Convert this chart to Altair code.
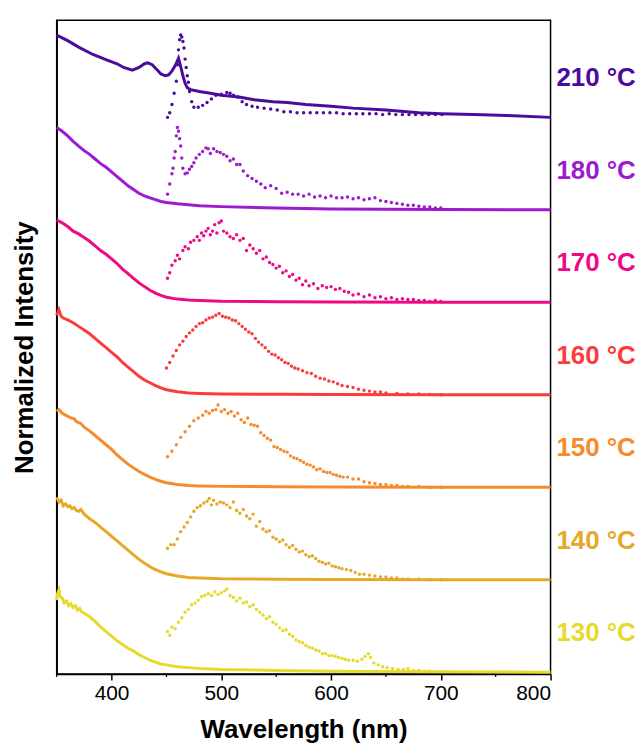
import altair as alt
import pandas as pd

FONT = "Liberation Sans"

SERIES = ["210 °C", "180 °C", "170 °C", "160 °C", "150 °C", "140 °C", "130 °C"]
COLORS = ["#4B0C9C", "#9A1BD0", "#EE0A84", "#FB3C3C", "#F88A2E", "#E6A828", "#E6DA2C"]
OFFSETS = [6, 5, 4, 3, 2, 1, 0]

# ---------------- absorbance (solid lines) ----------------
ABS_210_WL = [350, 360, 370, 383, 396, 405, 411, 419, 425, 430, 433, 437, 441, 445, 449, 452, 455, 458,
              461, 463, 465, 467, 469, 472, 480, 490, 500, 516, 530, 547, 560, 577, 600, 620, 650, 680,
              700, 730, 760, 800]
ABS_210 = [0.89, 0.83, 0.76, 0.68, 0.62, 0.58, 0.54, 0.51, 0.54, 0.58, 0.59, 0.57, 0.52, 0.47, 0.45, 0.46,
           0.50, 0.56, 0.64, 0.55, 0.45, 0.37, 0.32, 0.30, 0.28, 0.26, 0.24, 0.22, 0.19, 0.17, 0.16, 0.14,
           0.12, 0.10, 0.08, 0.05, 0.04, 0.03, 0.02, 0.0]

ABS_WL = [350, 355, 360, 365, 370, 375, 380, 385, 390, 395, 400, 405, 410, 415, 420, 425, 430, 435,
          440, 445, 450, 460, 470, 480, 500, 550, 600, 700, 800]
ABS_180 = [0.89, 0.85, 0.80, 0.74, 0.69, 0.64, 0.60, 0.55, 0.50, 0.46, 0.41, 0.36, 0.31, 0.26, 0.22,
           0.18, 0.15, 0.13, 0.11, 0.09, 0.08, 0.065, 0.055, 0.045, 0.035, 0.02, 0.01, 0.005, 0.0]
ABS_170 = [0.89, 0.86, 0.82, 0.77, 0.74, 0.70, 0.66, 0.61, 0.56, 0.52, 0.47, 0.42, 0.36, 0.31, 0.26,
           0.21, 0.17, 0.13, 0.10, 0.075, 0.055, 0.035, 0.025, 0.02, 0.012, 0.006, 0.003, 0.0, 0.0]

ABS_160_WL = [350, 352, 354, 356, 360, 365, 370, 375, 380, 385, 390, 395, 400, 405, 410, 415, 420, 425,
              430, 435, 440, 445, 450, 460, 470, 480, 500, 550, 600, 700, 800]
ABS_160 = [0.86, 0.92, 0.85, 0.83, 0.81, 0.78, 0.74, 0.70, 0.66, 0.61, 0.56, 0.51, 0.46, 0.41, 0.35,
           0.30, 0.25, 0.20, 0.16, 0.13, 0.10, 0.075, 0.055, 0.033, 0.02, 0.015, 0.01, 0.005, 0.003, 0.0, 0.0]

ABS_150_WL = [350, 352, 355, 358, 360, 363, 366, 368, 370, 372, 375, 380, 385, 390, 395, 400, 405, 410,
              415, 420, 425, 430, 435, 440, 445, 450, 460, 470, 480, 500, 550, 600, 700, 800]
ABS_150 = [0.82, 0.84, 0.80, 0.78, 0.77, 0.75, 0.74, 0.71, 0.70, 0.69, 0.65, 0.61, 0.56, 0.51, 0.46,
           0.41, 0.35, 0.30, 0.25, 0.21, 0.17, 0.14, 0.11, 0.085, 0.065, 0.05, 0.03, 0.02, 0.015, 0.01,
           0.006, 0.003, 0.0, 0.0]

ABS_140_WL = [350, 352, 354, 356, 358, 360, 362, 364, 366, 368, 370, 372, 375, 380, 385, 390, 395, 400,
              405, 410, 415, 420, 425, 430, 435, 440, 445, 450, 460, 470, 480, 500, 550, 600, 700, 800]
ABS_140 = [0.89, 0.84, 0.86, 0.80, 0.82, 0.79, 0.80, 0.77, 0.78, 0.75, 0.74, 0.76, 0.71, 0.66, 0.62,
           0.57, 0.52, 0.47, 0.42, 0.37, 0.32, 0.27, 0.22, 0.18, 0.14, 0.11, 0.085, 0.065, 0.04, 0.025,
           0.02, 0.012, 0.006, 0.003, 0.0, 0.0]

ABS_130_WL = [350, 351, 352, 353, 355, 357, 359, 361, 363, 365, 367, 369, 371, 373, 375, 380, 385, 390,
              395, 400, 405, 410, 415, 420, 425, 430, 435, 440, 445, 450, 460, 470, 480, 500, 550, 600,
              700, 800]
ABS_130 = [0.78, 0.86, 0.89, 0.82, 0.80, 0.75, 0.77, 0.72, 0.74, 0.70, 0.72, 0.67, 0.69, 0.65, 0.64,
           0.60, 0.55, 0.49, 0.44, 0.39, 0.34, 0.30, 0.26, 0.23, 0.19, 0.16, 0.13, 0.11, 0.09, 0.08,
           0.06, 0.05, 0.04, 0.03, 0.02, 0.01, 0.005, 0.0]

# ---------------- photoluminescence (dots) ----------------
PL_210_WL = [451, 453, 455, 457, 459, 460, 461, 462, 463, 464, 465, 466, 467, 468, 469, 470, 471, 473,
             475, 479, 483, 487, 491, 495, 500, 505, 508, 511, 515, 519, 523, 528, 533, 539, 545, 551,
             557, 563, 569, 575, 581, 587, 593, 599, 605, 611, 617, 623, 629, 635, 641, 647, 653, 659,
             665, 671, 677, 683, 689, 695, 701]
PL_210 = [0.00, 0.05, 0.14, 0.26, 0.39, 0.57, 0.73, 0.84, 0.89, 0.87, 0.82, 0.75, 0.63, 0.54, 0.45, 0.38,
          0.28, 0.17, 0.11, 0.11, 0.13, 0.16, 0.20, 0.24, 0.25, 0.27, 0.26, 0.24, 0.22, 0.17, 0.14, 0.12,
          0.11, 0.10, 0.09, 0.08, 0.06, 0.06, 0.05, 0.05, 0.05, 0.05, 0.05, 0.05, 0.05, 0.04, 0.04, 0.04,
          0.04, 0.04, 0.04, 0.03, 0.04, 0.03, 0.03, 0.03, 0.03, 0.03, 0.03, 0.03, 0.03]

PL_180_WL = [451, 453, 455, 456, 457, 458, 459, 460, 461, 462, 463, 464, 465, 467, 469, 471, 473, 475,
             477, 480, 483, 486, 488, 490, 493, 496, 499, 502, 505, 508, 511, 514, 517, 520, 524, 528,
             532, 536, 540, 545, 550, 555, 560, 565, 570, 575, 580, 585, 590, 595, 600, 605, 610, 615,
             620, 625, 630, 635, 640, 645, 650, 655, 660, 665, 670, 675, 680, 685, 690, 695, 700]
PL_180 = [0.17, 0.28, 0.39, 0.45, 0.56, 0.63, 0.80, 0.89, 0.85, 0.77, 0.69, 0.56, 0.45, 0.39, 0.40, 0.44,
          0.47, 0.51, 0.56, 0.60, 0.63, 0.67, 0.66, 0.61, 0.66, 0.63, 0.62, 0.60, 0.58, 0.53, 0.55, 0.49,
          0.49, 0.42, 0.37, 0.34, 0.31, 0.28, 0.24, 0.26, 0.23, 0.18, 0.19, 0.17, 0.17, 0.15, 0.17, 0.14,
          0.15, 0.13, 0.15, 0.13, 0.13, 0.14, 0.12, 0.13, 0.11, 0.12, 0.13, 0.10, 0.09, 0.08, 0.07, 0.06,
          0.05, 0.05, 0.04, 0.03, 0.03, 0.02, 0.02]

PL_170_WL = [451, 453, 455, 458, 460, 462, 465, 467, 470, 472, 475, 478, 480, 482, 484, 486, 488, 490,
             492, 494, 496, 498, 500, 502, 505, 508, 511, 514, 517, 520, 523, 526, 529, 532, 535, 538,
             541, 544, 547, 550, 553, 556, 559, 562, 565, 568, 571, 574, 577, 580, 584, 588, 592, 596,
             600, 604, 608, 612, 616, 620, 625, 630, 635, 640, 645, 650, 655, 660, 665, 670, 675, 680,
             685, 690, 695, 700]
PL_170 = [0.26, 0.32, 0.40, 0.45, 0.51, 0.47, 0.56, 0.60, 0.58, 0.65, 0.67, 0.71, 0.67, 0.75, 0.72, 0.77,
          0.80, 0.73, 0.77, 0.84, 0.75, 0.86, 0.88, 0.77, 0.75, 0.71, 0.69, 0.73, 0.67, 0.69, 0.56, 0.62,
          0.58, 0.53, 0.56, 0.47, 0.49, 0.43, 0.41, 0.37, 0.39, 0.32, 0.34, 0.28, 0.30, 0.24, 0.26, 0.19,
          0.23, 0.18, 0.20, 0.15, 0.18, 0.16, 0.17, 0.14, 0.15, 0.12, 0.11, 0.08, 0.09, 0.06, 0.08, 0.05,
          0.06, 0.04, 0.05, 0.03, 0.04, 0.03, 0.03, 0.02, 0.02, 0.01, 0.02, 0.01]

PL_160_WL = [450, 453, 456, 459, 462, 465, 468, 471, 474, 477, 480, 483, 486, 489, 492, 495, 498, 501,
             504, 507, 510, 513, 516, 519, 522, 525, 528, 531, 534, 537, 540, 543, 546, 549, 552, 555,
             558, 561, 564, 567, 570, 574, 578, 582, 586, 590, 594, 598, 602, 606, 610, 615, 620, 625,
             630, 635, 640, 645, 650, 660, 670, 680, 690, 700]
PL_160 = [0.29, 0.35, 0.42, 0.48, 0.54, 0.58, 0.63, 0.67, 0.70, 0.74, 0.77, 0.78, 0.81, 0.83, 0.84, 0.86,
          0.88, 0.85, 0.84, 0.83, 0.81, 0.80, 0.77, 0.74, 0.71, 0.68, 0.66, 0.61, 0.57, 0.54, 0.51, 0.47,
          0.44, 0.43, 0.40, 0.38, 0.35, 0.34, 0.31, 0.29, 0.28, 0.26, 0.24, 0.23, 0.20, 0.18, 0.17, 0.15,
          0.14, 0.12, 0.10, 0.09, 0.08, 0.06, 0.05, 0.04, 0.03, 0.03, 0.02, 0.015, 0.01, 0.01, 0.005, 0.0]

PL_150_WL = [451, 455, 459, 463, 467, 471, 475, 479, 483, 486, 489, 492, 495, 497, 500, 503, 506, 509,
             512, 515, 518, 521, 524, 527, 530, 533, 536, 539, 542, 545, 548, 551, 554, 557, 560, 563,
             566, 569, 572, 575, 578, 581, 584, 587, 590, 593, 596, 599, 602, 605, 608, 611, 615, 620,
             625, 630, 635, 640, 645, 650, 655, 660, 665, 670, 680, 690, 700]
PL_150 = [0.33, 0.39, 0.46, 0.54, 0.60, 0.66, 0.72, 0.75, 0.78, 0.82, 0.80, 0.83, 0.84, 0.89, 0.82, 0.84,
          0.80, 0.82, 0.77, 0.80, 0.73, 0.70, 0.75, 0.68, 0.67, 0.66, 0.59, 0.56, 0.53, 0.51, 0.44, 0.43,
          0.41, 0.39, 0.38, 0.34, 0.32, 0.31, 0.29, 0.27, 0.25, 0.24, 0.22, 0.19, 0.20, 0.17, 0.16, 0.16,
          0.14, 0.13, 0.12, 0.11, 0.11, 0.09, 0.09, 0.06, 0.05, 0.04, 0.03, 0.03, 0.02, 0.02, 0.01, 0.01,
          0.01, 0.0, 0.0]

PL_140_WL = [451, 454, 457, 460, 463, 466, 469, 472, 475, 478, 481, 484, 487, 489, 491, 493, 496, 499,
             502, 505, 508, 511, 514, 517, 520, 523, 526, 529, 532, 535, 538, 541, 544, 547, 550, 553,
             556, 559, 562, 565, 568, 571, 574, 577, 580, 583, 586, 589, 592, 595, 598, 601, 604, 607,
             610, 614, 618, 622, 626, 630, 635, 640, 645, 650, 655, 660, 665, 670, 680, 690, 700]
PL_140 = [0.34, 0.38, 0.38, 0.44, 0.52, 0.57, 0.62, 0.68, 0.74, 0.78, 0.80, 0.83, 0.85, 0.88, 0.81, 0.86,
          0.82, 0.84, 0.83, 0.81, 0.78, 0.84, 0.75, 0.72, 0.76, 0.69, 0.66, 0.71, 0.58, 0.63, 0.55, 0.52,
          0.53, 0.46, 0.44, 0.41, 0.43, 0.38, 0.35, 0.37, 0.33, 0.30, 0.31, 0.27, 0.25, 0.26, 0.23, 0.20,
          0.19, 0.17, 0.18, 0.15, 0.14, 0.13, 0.12, 0.11, 0.10, 0.08, 0.06, 0.06, 0.05, 0.04, 0.03, 0.03,
          0.02, 0.02, 0.01, 0.01, 0.01, 0.0, 0.0]

PL_130_WL = [451, 453, 455, 458, 461, 464, 467, 470, 473, 476, 479, 482, 485, 488, 491, 494, 497, 500,
             503, 505, 508, 511, 514, 517, 520, 523, 526, 529, 532, 535, 538, 541, 544, 547, 550, 553,
             556, 559, 562, 565, 568, 571, 574, 577, 580, 583, 586, 589, 592, 595, 598, 601, 604, 607,
             610, 613, 616, 620, 624, 628, 631, 634, 636, 639, 643, 647, 651, 656, 661, 666, 670, 675,
             680, 685, 690]
PL_130 = [0.44, 0.40, 0.49, 0.47, 0.54, 0.59, 0.65, 0.68, 0.73, 0.75, 0.78, 0.82, 0.83, 0.85, 0.83, 0.87,
          0.84, 0.86, 0.88, 0.90, 0.83, 0.81, 0.77, 0.80, 0.75, 0.76, 0.71, 0.73, 0.68, 0.65, 0.62, 0.58,
          0.60, 0.54, 0.52, 0.48, 0.45, 0.46, 0.41, 0.39, 0.35, 0.33, 0.32, 0.29, 0.27, 0.26, 0.24, 0.23,
          0.20, 0.20, 0.18, 0.18, 0.17, 0.16, 0.15, 0.14, 0.13, 0.13, 0.12, 0.14, 0.17, 0.20, 0.16, 0.10,
          0.08, 0.06, 0.05, 0.04, 0.03, 0.03, 0.04, 0.02, 0.02, 0.01, 0.01]

X_TICKS = [400, 500, 600, 700, 800]
MINOR_TICKS = [350, 450, 550, 650, 750]
LABEL_LEVEL = 0.42

ABS = {
    "210 °C": (ABS_210_WL, ABS_210), "180 °C": (ABS_WL, ABS_180), "170 °C": (ABS_WL, ABS_170),
    "160 °C": (ABS_160_WL, ABS_160), "150 °C": (ABS_150_WL, ABS_150), "140 °C": (ABS_140_WL, ABS_140),
    "130 °C": (ABS_130_WL, ABS_130),
}
PL = {
    "210 °C": (PL_210_WL, PL_210), "180 °C": (PL_180_WL, PL_180), "170 °C": (PL_170_WL, PL_170),
    "160 °C": (PL_160_WL, PL_160), "150 °C": (PL_150_WL, PL_150), "140 °C": (PL_140_WL, PL_140),
    "130 °C": (PL_130_WL, PL_130),
}

abs_rows, pl_rows, lab_rows = [], [], []
for s, off in zip(SERIES, OFFSETS):
    for w, v in zip(*ABS[s]):
        abs_rows.append({"series": s, "wl": w, "val": off + v})
    for w, v in zip(*PL[s]):
        pl_rows.append({"series": s, "wl": w, "val": off + v})
    lab_rows.append({"series": s, "val": off + LABEL_LEVEL})

abs_df = pd.DataFrame(abs_rows)
pl_df = pd.DataFrame(pl_rows)
lab_df = pd.DataFrame(lab_rows)
minor_df = pd.DataFrame({"wl": MINOR_TICKS})

X = alt.X("wl:Q", scale=alt.Scale(domain=[350, 800], nice=False, zero=False),
          axis=alt.Axis(values=X_TICKS, title="Wavelength (nm)", grid=False, tickSize=6,
                        tickWidth=1.5, tickColor="black", domainColor="black", domainWidth=1.5,
                        labelFont=FONT, labelFontSize=21, labelColor="black", labelPadding=3,
                        titleFont=FONT, titleFontSize=26, titleFontWeight="bold",
                        titleColor="black", titlePadding=13))
Y = alt.Y("val:Q", scale=alt.Scale(domain=[-0.02, 7.05], nice=False, zero=False),
          axis=alt.Axis(title="Normalized Intensity", grid=False, ticks=False, labels=False,
                        domainColor="black", domainWidth=1.5, titleFont=FONT, titleFontSize=26,
                        titleFontWeight="bold", titleColor="black", titlePadding=19))
C = alt.Color("series:N", scale=alt.Scale(domain=SERIES, range=COLORS), legend=None)

lines = alt.Chart(abs_df).mark_line(strokeWidth=3).encode(x=X, y=Y, color=C, detail="series:N")
dots = alt.Chart(pl_df).mark_circle(size=12, opacity=1).encode(x=X, y=Y, color=C)
labels = alt.Chart(lab_df).mark_text(align="left", baseline="middle", font=FONT, fontSize=26,
                                     fontWeight="bold").encode(
    x=alt.value(503), y=Y, text="series:N", color=C)
minor = alt.Chart(minor_df).mark_rule(color="black", strokeWidth=1.2).encode(
    x=X, y=alt.value(658), y2=alt.value(661))

chart = alt.layer(lines, dots, labels, minor).properties(
    width=497, height=658, padding={"left": 4, "top": 10, "right": 0, "bottom": 0}
).configure_view(stroke="black", strokeWidth=1.5)

chart.save("out.html", embed_options={"renderer": "svg", "actions": False})
